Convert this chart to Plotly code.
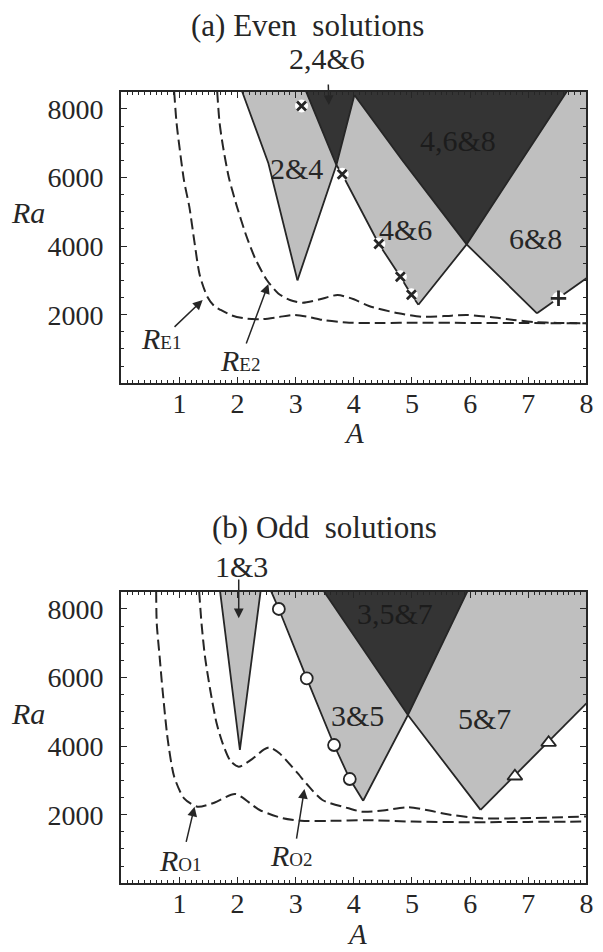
import plotly.graph_objects as go

# ---------------- data: (a) even solutions ----------------
even_light_A  = [2.08, 2.53, 3.03, 3.70, 3.80, 4.43, 4.80, 4.99, 5.11, 5.94, 6.40, 7.15, 7.52, 8.00, 8.00]
even_light_Ra = [8500, 6413, 3000, 6363, 6092, 4061, 3107, 2580, 2290, 4050, 3294, 2040, 2478, 3061, 8500]
even_dark_A   = [3.18, 3.70, 4.01, 4.83, 5.94, 7.66]
even_dark_Ra  = [8500, 6363, 8404, 6509, 4050, 8500]

e24_left_A,  e24_left_Ra  = [2.08, 2.53, 3.03], [8500, 6413, 3000]
e24_right_A, e24_right_Ra = [3.03, 3.70, 4.01], [3000, 6363, 8404]
e46_left_A,  e46_left_Ra  = [3.18, 3.70, 3.80, 4.43, 4.80, 4.99, 5.11], [8500, 6363, 6092, 4061, 3107, 2580, 2290]
e46_right_A, e46_right_Ra = [5.11, 5.94, 7.66], [2290, 4050, 8500]
e68_left_A,  e68_left_Ra  = [4.01, 4.83, 5.94, 6.40, 7.15], [8404, 6509, 4050, 3294, 2040]
e68_right_A, e68_right_Ra = [7.15, 7.52, 8.00], [2040, 2478, 3061]

RE1_A  = [0.91, 0.95, 1.00, 1.08, 1.17, 1.26, 1.35, 1.48, 1.60, 1.71, 1.90, 2.11, 2.40, 2.70, 2.96, 3.20, 3.47, 3.92, 4.50, 5.05, 6.00, 7.00, 8.00]
RE1_Ra = [8500, 7600, 6897, 5900, 5148, 4100, 3150, 2524, 2250, 2137, 1980, 1895, 1866, 1930, 1991, 1940, 1845, 1767, 1760, 1767, 1760, 1755, 1749]
RE2_A  = [1.65, 1.69, 1.75, 1.85, 1.99, 2.15, 2.30, 2.50, 2.70, 2.90, 3.12, 3.40, 3.72, 4.00, 4.26, 4.77, 5.16, 5.55, 5.95, 6.35, 6.75, 7.10, 7.50, 8.00]
RE2_Ra = [8500, 7600, 6897, 6000, 5148, 4300, 3650, 3020, 2620, 2428, 2350, 2440, 2574, 2450, 2253, 2040, 1941, 1960, 1991, 1930, 1845, 1787, 1760, 1749]

even_x_A,  even_x_Ra  = [3.10, 3.80, 4.43, 4.80, 4.99], [8083, 6092, 4061, 3107, 2580]
even_p_A,  even_p_Ra  = [7.52], [2478]

# ---------------- data: (b) odd solutions ----------------
o13_A,  o13_Ra  = [1.70, 2.04, 2.395], [8500, 3886, 8500]
odd_light_A  = [2.58, 2.71, 3.19, 3.66, 3.93, 4.16, 4.93, 6.18, 8.00, 8.00]
odd_light_Ra = [8500, 7996, 5976, 4031, 3040, 2405, 4906, 2140, 5247, 8500]
odd_dark_A   = [3.49, 4.93, 5.95]
odd_dark_Ra  = [8500, 4906, 8500]

o35_left_A,  o35_left_Ra  = [2.58, 2.71, 3.19, 3.66, 3.93, 4.16], [8500, 7996, 5976, 4031, 3040, 2405]
o35_right_A, o35_right_Ra = [4.16, 4.93, 5.95], [2405, 4906, 8500]
o57_left_A,  o57_left_Ra  = [3.49, 4.93, 6.18], [8500, 4906, 2140]
o57_right_A, o57_right_Ra = [6.18, 8.00], [2140, 5247]

RO1_A  = [0.60, 0.61, 0.66, 0.71, 0.80, 0.91, 1.08, 1.31, 1.60, 1.96, 2.38, 2.78, 3.09, 3.60, 4.20, 5.00, 6.00, 7.00, 8.00]
RO1_Ra = [8500, 7579, 6600, 5635, 4178, 3107, 2478, 2233, 2350, 2603, 2137, 1895, 1825, 1820, 1840, 1800, 1780, 1790, 1800]
RO2_A  = [1.34, 1.38, 1.44, 1.53, 1.64, 1.75, 1.88, 2.02, 2.25, 2.45, 2.55, 2.72, 3.01, 3.23, 3.46, 3.91, 4.14, 4.50, 4.93, 5.30, 5.61, 6.18, 7.03, 8.00]
RO2_Ra = [8500, 7579, 6605, 5635, 4664, 4050, 3560, 3399, 3620, 3900, 3960, 3790, 3253, 2816, 2428, 2186, 2088, 2120, 2215, 2120, 2011, 1895, 1900, 1950]

odd_o_A,  odd_o_Ra  = [2.71, 3.19, 3.66, 3.93], [7996, 5976, 4031, 3040]
odd_t_A,  odd_t_Ra  = [6.77, 7.35], [3120, 4100]

x_ticks = [1, 2, 3, 4, 5, 6, 7, 8]
y_ticks = [2000, 4000, 6000, 8000]

# ---------------- styling ----------------
LIGHT = "#bfbfbf"
DARK = "#343434"
INK = "#262626"
FONT = "Liberation Serif"

fig = go.Figure()


def poly(A, R, color, xa, ya):
    fig.add_trace(go.Scatter(x=A, y=R, fill="toself", fillcolor=color, mode="none",
                             hoverinfo="skip", showlegend=False, xaxis=xa, yaxis=ya))


def solid(A, R, xa, ya):
    fig.add_trace(go.Scatter(x=A, y=R, mode="lines", line=dict(color=INK, width=1.8),
                             hoverinfo="skip", showlegend=False, xaxis=xa, yaxis=ya))


def dashed(A, R, xa, ya):
    fig.add_trace(go.Scatter(x=A, y=R, mode="lines",
                             line=dict(color=INK, width=2, dash="11px,5px", shape="spline", smoothing=0.7),
                             hoverinfo="skip", showlegend=False, xaxis=xa, yaxis=ya))


# top panel
poly(even_light_A, even_light_Ra, LIGHT, "x", "y")
poly(even_dark_A, even_dark_Ra, DARK, "x", "y")
for A, R in [(e24_left_A, e24_left_Ra), (e24_right_A, e24_right_Ra), (e46_left_A, e46_left_Ra),
             (e46_right_A, e46_right_Ra), (e68_left_A, e68_left_Ra), (e68_right_A, e68_right_Ra)]:
    solid(A, R, "x", "y")
dashed(RE1_A, RE1_Ra, "x", "y")
dashed(RE2_A, RE2_Ra, "x", "y")
fig.add_trace(go.Scatter(x=even_x_A + even_p_A, y=even_x_Ra + even_p_Ra, mode="markers",
                         marker=dict(symbol="circle", size=13, color="white", line=dict(width=0)),
                         hoverinfo="skip", showlegend=False, xaxis="x", yaxis="y"))
fig.add_trace(go.Scatter(x=even_x_A, y=even_x_Ra, mode="markers",
                         marker=dict(symbol="x-thin", size=9, line=dict(color=INK, width=2.8)),
                         hoverinfo="skip", showlegend=False, xaxis="x", yaxis="y"))
fig.add_trace(go.Scatter(x=even_p_A, y=even_p_Ra, mode="markers",
                         marker=dict(symbol="cross-thin", size=11, line=dict(color=INK, width=2.8)),
                         hoverinfo="skip", showlegend=False, xaxis="x", yaxis="y"))

# bottom panel
poly(o13_A, o13_Ra, LIGHT, "x2", "y2")
poly(odd_light_A, odd_light_Ra, LIGHT, "x2", "y2")
poly(odd_dark_A, odd_dark_Ra, DARK, "x2", "y2")
for A, R in [(o13_A, o13_Ra), (o35_left_A, o35_left_Ra), (o35_right_A, o35_right_Ra),
             (o57_left_A, o57_left_Ra), (o57_right_A, o57_right_Ra)]:
    solid(A, R, "x2", "y2")
dashed(RO1_A, RO1_Ra, "x2", "y2")
dashed(RO2_A, RO2_Ra, "x2", "y2")
fig.add_trace(go.Scatter(x=odd_o_A, y=odd_o_Ra, mode="markers",
                         marker=dict(symbol="circle", size=12, color="white", line=dict(color=INK, width=1.8)),
                         hoverinfo="skip", showlegend=False, xaxis="x2", yaxis="y2"))
fig.add_trace(go.Scatter(x=odd_t_A, y=odd_t_Ra, mode="markers",
                         marker=dict(symbol="triangle-up", size=13, color="white", line=dict(color=INK, width=1.8)),
                         hoverinfo="skip", showlegend=False, xaxis="x2", yaxis="y2"))

XDOM = [122.7 / 603, 593.3 / 603]
TOP_DOM = [1 - 383.3 / 952, 1 - 91.7 / 952]
BOT_DOM = [1 - 883.3 / 952, 1 - 591.7 / 952]

axis_common = dict(showgrid=False, zeroline=False, showline=True, linecolor=INK, linewidth=2.4,
                   mirror="allticks", ticks="inside", tickcolor=INK, tickwidth=1.4,
                   tickfont=dict(family=FONT, size=28, color=INK))
xax = dict(axis_common, range=[0, 8], tickvals=x_ticks, ticklen=6, ticklabelstandoff=-6,
           minor=dict(dtick=0.1, ticks="inside", ticklen=3, tickcolor=INK, tickwidth=1))
yax = dict(axis_common, range=[0, 8500], tickvals=y_ticks, ticklen=6, ticklabelstandoff=10,
           minor=dict(dtick=500, tick0=0, ticks="inside", ticklen=3, tickcolor=INK, tickwidth=1))

fig.update_layout(
    width=603, height=952, autosize=False,
    margin=dict(l=0, r=0, t=0, b=0),
    paper_bgcolor="white", plot_bgcolor="white",
    showlegend=False,
    xaxis=dict(xax, domain=XDOM, anchor="y"),
    yaxis=dict(yax, domain=TOP_DOM, anchor="x"),
    xaxis2=dict(xax, domain=XDOM, anchor="y2"),
    yaxis2=dict(yax, domain=BOT_DOM, anchor="x2"),
)


def ptext(text, x, y, size=28, italic=False):
    if italic:
        text = "<i>" + text + "</i>"
    fig.add_annotation(text=text, x=x, y=y, xref="paper", yref="paper", showarrow=False,
                       xanchor="center", yanchor="middle", font=dict(family=FONT, size=size, color=INK))


def dtext(text, x, y, xa, ya, size=30, color=INK):
    fig.add_annotation(text=text, x=x, y=y, xref=xa, yref=ya, showarrow=False,
                       xanchor="center", yanchor="middle", font=dict(family=FONT, size=size, color=color))


def darrow(x, y, ax, ay, xa, ya):
    fig.add_annotation(text="", x=x, y=y, ax=ax, ay=ay, xref=xa, yref=ya, axref=xa, ayref=ya,
                       showarrow=True, arrowhead=2, arrowsize=1.3, arrowwidth=1.5, arrowcolor=INK)


# titles and axis labels
ptext("(a) Even  solutions", 311.5 / 603, 1 - 25 / 952, size=31)
ptext("(b) Odd  solutions", 328 / 603, 1 - 527 / 952, size=31)
ptext("Ra", 28.5 / 603, 1 - 213 / 952, size=30, italic=True)
ptext("Ra", 28.5 / 603, 1 - 713 / 952, size=30, italic=True)
ptext("A", 358 / 603, 1 - 433 / 952, size=29, italic=True)
ptext("A", 361 / 603, 1 - 934 / 952, size=29, italic=True)
ptext("2,4&amp;6", 331 / 603, 1 - 58 / 952, size=30)
ptext("1&amp;3", 244 / 603, 1 - 566 / 952, size=30)

# region labels top
darrow(3.57, 8112, 3.56, 8754, "x", "y")
dtext("2&amp;4", 3.02, 6267, "x", "y")
dtext("4&amp;6", 4.89, 4469, "x", "y")
dtext("6&amp;8", 7.12, 4227, "x", "y")
dtext("4,6&amp;8", 5.79, 7092, "x", "y", color="#1c1c1c")
sub = "<i>R</i><span style='font-size:19px'>%s</span>"
dtext(sub % "E1", 0.69, 1312, "x", "y")
darrow(1.40, 2428, 0.89, 1603, "x", "y")
dtext(sub % "E2", 2.05, 679, "x", "y")
darrow(2.53, 2895, 2.14, 1116, "x", "y")

# region labels bottom
darrow(2.02, 7725, 2.02, 8900, "x2", "y2")
dtext("3&amp;5", 4.06, 4906, "x2", "y2")
dtext("5&amp;7", 6.24, 4810, "x2", "y2")
dtext("3,5&amp;7", 4.71, 7871, "x2", "y2", color="#1c1c1c")
dtext(sub % "O1", 1.02, 679, "x2", "y2")
darrow(1.26, 2233, 1.11, 1166, "x2", "y2")
dtext(sub % "O2", 2.92, 825, "x2", "y2")
darrow(3.15, 2750, 3.01, 1262, "x2", "y2")

fig.write_html("out.html", config={"displayModeBar": False},
               post_script="document.body.style.margin='0px';document.body.style.padding='0px';")
